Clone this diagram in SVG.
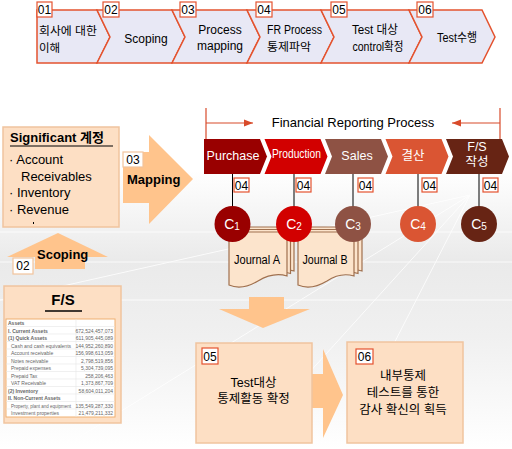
<svg xmlns="http://www.w3.org/2000/svg" width="512" height="449" viewBox="0 0 512 449">
<defs>
<linearGradient id="bg" x1="0" y1="0" x2="0" y2="1">
<stop offset="0" stop-color="#FFFFFF"/>
<stop offset="0.38" stop-color="#FFFFFF"/>
<stop offset="0.58" stop-color="#EAEAEA"/>
<stop offset="0.75" stop-color="#F0F0F0"/>
<stop offset="1" stop-color="#FFFFFF"/>
</linearGradient>
<marker id="ah" viewBox="0 0 10 10" refX="10" refY="5" markerWidth="9" markerHeight="9" markerUnits="userSpaceOnUse" orient="auto">
<path d="M0,1 L10,5 L0,9 Z" fill="#D84A2A"/>
</marker>
<style>
.step{fill:#E8E8F5;stroke:#E4532F;stroke-width:1.5}
.lbl{fill:#FFFFFF;stroke:#E4532F;stroke-width:1.2}
.lblp{fill:#FFFFFF;stroke:#F2C49C;stroke-width:1.2}
.t{font-family:"Liberation Sans","Noto Sans CJK KR",sans-serif;fill:#000}
.w{font-family:"Liberation Sans","Noto Sans CJK KR",sans-serif;fill:#FFFFFF}
.b{font-weight:bold}
.peach{fill:#FDDFC4;stroke:#F0C49E;stroke-width:1.5}
.arr{fill:#FFC48C}
.doc{fill:#FCE4CC;stroke:#A0704E;stroke-width:1.2}
.vl{stroke:#000;stroke-width:1}
.tb{font-family:"Liberation Sans",sans-serif;font-size:5px;fill:#666}
</style>
</defs>
<rect x="0" y="0" width="512" height="449" fill="url(#bg)"/>
<g stroke="#FFFFFF" stroke-width="1" opacity="0.8">
<line x1="470" y1="195" x2="0" y2="300"/>
<line x1="470" y1="195" x2="240" y2="449"/>
<line x1="470" y1="195" x2="340" y2="449"/>
<line x1="470" y1="195" x2="60" y2="449"/>
<line x1="0" y1="232" x2="512" y2="232"/>
<line x1="0" y1="262" x2="512" y2="262"/>
<line x1="0" y1="300" x2="512" y2="300"/>
</g>

<!-- Top process steps -->
<g id="step01">
<polygon class="step" points="37,10 97,10 110,37 97,63 37,63"/>
<rect class="lbl" x="37" y="2" width="15" height="15"/>
<text class="t" x="44.5" y="14" font-size="12" text-anchor="middle">01</text>
<text class="t" x="39" y="35" font-size="11.5" textLength="58" lengthAdjust="spacingAndGlyphs">회사에 대한</text>
<text class="t" x="39" y="52" font-size="11.5">이해</text>
</g>
<g id="step02">
<polygon class="step" points="97,10 172,10 185,37 172,63 97,63 110,37"/>
<rect class="lbl" x="103" y="2" width="16" height="15"/>
<text class="t" x="111" y="14" font-size="12" text-anchor="middle">02</text>
<text class="t" x="146" y="43" font-size="12" text-anchor="middle">Scoping</text>
</g>
<g id="step03">
<polygon class="step" points="172,10 247,10 260,37 247,63 172,63 185,37"/>
<rect class="lbl" x="180" y="2" width="16" height="15"/>
<text class="t" x="188" y="14" font-size="12" text-anchor="middle">03</text>
<text class="t" x="220" y="34" font-size="12" text-anchor="middle">Process</text>
<text class="t" x="220" y="50" font-size="12" text-anchor="middle">mapping</text>
</g>
<g id="step04">
<polygon class="step" points="247,10 321,10 334,37 321,63 247,63 260,37"/>
<rect class="lbl" x="256" y="2" width="16" height="15"/>
<text class="t" x="264" y="14" font-size="12" text-anchor="middle">04</text>
<text class="t" x="267" y="34" font-size="12" textLength="55" lengthAdjust="spacingAndGlyphs">FR Process</text>
<text class="t" x="267" y="51" font-size="11.5" textLength="44" lengthAdjust="spacingAndGlyphs">통제파악</text>
</g>
<g id="step05">
<polygon class="step" points="321,10 409,10 422,37 409,63 321,63 334,37"/>
<rect class="lbl" x="331" y="2" width="16" height="15"/>
<text class="t" x="339" y="14" font-size="12" text-anchor="middle">05</text>
<text class="t" x="375" y="34" font-size="12" text-anchor="middle" textLength="46" lengthAdjust="spacingAndGlyphs">Test 대상</text>
<text class="t" x="378" y="51" font-size="12" text-anchor="middle" textLength="51" lengthAdjust="spacingAndGlyphs">control확정</text>
</g>
<g id="step06">
<polygon class="step" points="409,10 482,10 495,37 482,63 409,63 422,37"/>
<rect class="lbl" x="417" y="2" width="16" height="15"/>
<text class="t" x="425" y="14" font-size="12" text-anchor="middle">06</text>
<text class="t" x="457" y="42" font-size="12" text-anchor="middle" textLength="40" lengthAdjust="spacingAndGlyphs">Test수행</text>
</g>

<!-- Left column -->
<g id="significant">
<rect class="peach" x="3" y="127" width="116" height="100"/>
<text class="t b" x="10" y="142" font-size="13">Significant 계정</text>
<line x1="10" y1="146" x2="113" y2="146" stroke="#000" stroke-width="1.2"/>
<text class="t" x="9" y="164" font-size="13">· Account</text>
<text class="t" x="21" y="181" font-size="13">Receivables</text>
<text class="t" x="9" y="197" font-size="13">· Inventory</text>
<text class="t" x="9" y="214" font-size="13">· Revenue</text>
<rect x="33" y="222" width="1" height="2" fill="#000"/>
</g>
<g id="mapping">
<polygon class="arr" points="123,152 149,152 149,135 193,179 149,224 149,203 123,203"/>
<rect class="lblp" x="123" y="152" width="20" height="15"/>
<text class="t" x="133" y="164" font-size="12" text-anchor="middle">03</text>
<text class="t b" x="127" y="184" font-size="13">Mapping</text>
</g>
<g id="scoping">
<polygon class="arr" points="58,233 108,257 85,257 85,269 35,269 35,257 7,257"/>
<text class="t b" x="37" y="259" font-size="13">Scoping</text>
<rect class="lblp" x="13" y="258" width="20" height="16"/>
<text class="t" x="23" y="270" font-size="12" text-anchor="middle">02</text>
</g>
<g id="fs">
<rect class="peach" x="4" y="286" width="117" height="137"/>
<text class="t b" x="63" y="305" font-size="15" text-anchor="middle">F/S</text>
<line x1="45" y1="311" x2="82" y2="311" stroke="#000" stroke-width="1.5"/>
<rect x="6" y="319" width="109" height="98" fill="#FFFFFF" stroke="#F0B070" stroke-width="1"/>
<g stroke="#E6E6E6" stroke-width="0.6">
<line x1="76" y1="319" x2="76" y2="417"/>
<line x1="6" y1="326.5" x2="115" y2="326.5"/>
<line x1="6" y1="334" x2="115" y2="334"/>
<line x1="6" y1="341.5" x2="115" y2="341.5"/>
<line x1="6" y1="349" x2="115" y2="349"/>
<line x1="6" y1="356.5" x2="115" y2="356.5"/>
<line x1="6" y1="364" x2="115" y2="364"/>
<line x1="6" y1="371.5" x2="115" y2="371.5"/>
<line x1="6" y1="379" x2="115" y2="379"/>
<line x1="6" y1="386.5" x2="115" y2="386.5"/>
<line x1="6" y1="394" x2="115" y2="394"/>
<line x1="6" y1="401.5" x2="115" y2="401.5"/>
<line x1="6" y1="409" x2="115" y2="409"/>
</g>
<text class="tb b" x="8" y="325" fill="#333">Assets</text>
<text class="tb b" x="8" y="332.5" fill="#333">I. Current Assets</text>
<text class="tb" x="113" y="332.5" text-anchor="end">672,524,457,073</text>
<text class="tb b" x="8" y="340" fill="#333">(1) Quick Assets</text>
<text class="tb" x="113" y="340" text-anchor="end">611,905,445,089</text>
<text class="tb" x="11" y="347.5">Cash and cash equivalents</text>
<text class="tb" x="113" y="347.5" text-anchor="end">144,952,260,890</text>
<text class="tb" x="11" y="355">Account receivable</text>
<text class="tb" x="113" y="355" text-anchor="end">156,998,613,059</text>
<text class="tb" x="11" y="362.5">Notes receivable</text>
<text class="tb" x="113" y="362.5" text-anchor="end">2,798,519,856</text>
<text class="tb" x="11" y="370">Prepaid expenses</text>
<text class="tb" x="113" y="370" text-anchor="end">5,304,739,095</text>
<text class="tb" x="11" y="377.5">Prepaid Tax</text>
<text class="tb" x="113" y="377.5" text-anchor="end">258,206,463</text>
<text class="tb" x="11" y="385">VAT Receivable</text>
<text class="tb" x="113" y="385" text-anchor="end">1,373,867,709</text>
<text class="tb b" x="8" y="392.5" fill="#333">(2) Inventory</text>
<text class="tb" x="113" y="392.5" text-anchor="end">58,604,011,204</text>
<text class="tb b" x="8" y="400" fill="#333">II. Non-Current Assets</text>
<text class="tb" x="11" y="407.5" textLength="60" lengthAdjust="spacingAndGlyphs">Property, plant and equipment</text>
<text class="tb" x="113" y="407.5" text-anchor="end">135,549,287,330</text>
<text class="tb" x="11" y="415">Investment properties</text>
<text class="tb" x="113" y="415" text-anchor="end">21,479,211,332</text>
</g>

<!-- Financial Reporting Process header -->
<g id="frp-header">
<line x1="206" y1="108" x2="206" y2="140" stroke="#D84A2A" stroke-width="1.2"/>
<line x1="500" y1="108" x2="500" y2="140" stroke="#D84A2A" stroke-width="1.2"/>
<line x1="206" y1="123" x2="253" y2="123" stroke="#D84A2A" stroke-width="1.2" marker-end="url(#ah)"/>
<line x1="500" y1="123" x2="452" y2="123" stroke="#D84A2A" stroke-width="1.2" marker-end="url(#ah)"/>
<text class="t" x="353" y="127" font-size="13" text-anchor="middle">Financial Reporting Process</text>
</g>

<!-- Process chevrons -->
<g id="purchase">
<polygon points="204,139 260,139 267,156.5 260,174 204,174" fill="#990000"/>
<text class="w" x="233" y="160" font-size="12.5" text-anchor="middle">Purchase</text>
</g>
<g id="production">
<polygon points="264.5,139 320.5,139 327.5,156.5 320.5,174 264.5,174 271.5,156.5" fill="#D20000"/>
<text class="w" x="296.5" y="158" font-size="13" text-anchor="middle" textLength="49" lengthAdjust="spacingAndGlyphs">Production</text>
</g>
<g id="sales">
<polygon points="325,139 381,139 388,156.5 381,174 325,174 332,156.5" fill="#8E5244"/>
<text class="w" x="357" y="160" font-size="12.5" text-anchor="middle">Sales</text>
</g>
<g id="closing">
<polygon points="385.5,139 441.5,139 448.5,156.5 441.5,174 385.5,174 392.5,156.5" fill="#DA5533"/>
<text class="w" x="413" y="160" font-size="12.5" text-anchor="middle">결산</text>
</g>
<g id="fs-prep">
<polygon points="446,139 502,139 509,156.5 502,174 446,174 453,156.5" fill="#672414"/>
<text class="w" x="477" y="151" font-size="12.5" text-anchor="middle">F/S</text>
<text class="w" x="477" y="166" font-size="12.5" text-anchor="middle">작성</text>
</g>

<!-- Connectors -->
<g id="connectors">
<line class="vl" x1="232.5" y1="174" x2="232.5" y2="207"/>
<line class="vl" x1="294" y1="174" x2="294" y2="207"/>
<line class="vl" x1="353" y1="174" x2="353" y2="207"/>
<line class="vl" x1="418" y1="174" x2="418" y2="207"/>
<line class="vl" x1="479" y1="174" x2="479" y2="207"/>
<polygon class="arr" points="249,297 284,297 284,309 310,309 263,328 219,309 249,309"/>
<polygon class="arr" points="312,374 323,374 323,349 343,395 323,438 323,408 312,408"/>
</g>

<!-- 04 labels -->
<g id="labels04">
<rect class="lbl" x="234" y="178" width="15" height="14"/>
<text class="t" x="241.5" y="189.5" font-size="12" text-anchor="middle">04</text>
<rect class="lbl" x="296" y="178" width="15" height="14"/>
<text class="t" x="303.5" y="189.5" font-size="12" text-anchor="middle">04</text>
<rect class="lbl" x="358" y="178" width="15" height="14"/>
<text class="t" x="365.5" y="189.5" font-size="12" text-anchor="middle">04</text>
<rect class="lbl" x="422" y="178" width="15" height="14"/>
<text class="t" x="429.5" y="189.5" font-size="12" text-anchor="middle">04</text>
<rect class="lbl" x="483" y="178" width="15" height="14"/>
<text class="t" x="490.5" y="189.5" font-size="12" text-anchor="middle">04</text>
</g>

<!-- Journals -->
<g id="journalA">
<path class="doc" d="M236,227 H294 V271 C284,268 276,270 266,275 C256,280 246,283 236,280 Z"/>
<path class="doc" d="M232.5,229.5 H290.5 V273.5 C280,270 272,272 262,277 C252,282 242,285 232.5,282.5 Z"/>
<path class="doc" d="M229,232 H287 V276 C277,273 268,275 258,281 C248,287 238,289 229,285 Z"/>
<text class="t" x="257" y="264" font-size="12.5" text-anchor="middle" textLength="46" lengthAdjust="spacingAndGlyphs">Journal A</text>
</g>
<g id="journalB">
<path class="doc" d="M306,227 H362 V271 C352,268 344,270 335,275 C325,280 315,283 306,280 Z"/>
<path class="doc" d="M302,229.5 H358 V273.5 C348,270 340,272 331,277 C321,282 311,285 302,282.5 Z"/>
<path class="doc" d="M298,232 H354 V276 C344,273 336,275 327,281 C317,287 307,289 298,285 Z"/>
<text class="t" x="325" y="264" font-size="12.5" text-anchor="middle" textLength="45" lengthAdjust="spacingAndGlyphs">Journal B</text>
</g>

<!-- Control circles -->
<g id="c1">
<circle cx="232.5" cy="224" r="18" fill="#990000"/>
<text class="w" x="232" y="229" font-size="14" text-anchor="middle">C<tspan font-size="10" dy="1">1</tspan></text>
</g>
<g id="c2">
<circle cx="294" cy="224" r="18" fill="#D20000"/>
<text class="w" x="294" y="229" font-size="14" text-anchor="middle">C<tspan font-size="10" dy="1">2</tspan></text>
</g>
<g id="c3">
<circle cx="353" cy="224" r="18" fill="#8E5244"/>
<text class="w" x="353" y="229" font-size="14" text-anchor="middle">C<tspan font-size="10" dy="1">3</tspan></text>
</g>
<g id="c4">
<circle cx="418" cy="224" r="18" fill="#DA5533"/>
<text class="w" x="418" y="229" font-size="14" text-anchor="middle">C<tspan font-size="10" dy="1">4</tspan></text>
</g>
<g id="c5">
<circle cx="479" cy="224" r="18" fill="#672414"/>
<text class="w" x="479" y="229" font-size="14" text-anchor="middle">C<tspan font-size="10" dy="1">5</tspan></text>
</g>

<!-- Bottom boxes -->
<g id="box05">
<rect class="peach" x="196" y="343" width="116" height="100"/>
<rect class="lbl" x="202" y="348" width="16" height="16"/>
<text class="t" x="210" y="360.5" font-size="12" text-anchor="middle">05</text>
<text class="t" x="253.5" y="387" font-size="12.5" text-anchor="middle">Test대상</text>
<text class="t" x="253.5" y="403" font-size="12.5" text-anchor="middle">통제활동 확정</text>
</g>
<g id="box06">
<rect class="peach" x="347" y="342" width="116" height="101"/>
<rect class="lbl" x="356" y="349" width="17" height="15"/>
<text class="t" x="364.5" y="360.5" font-size="12" text-anchor="middle">06</text>
<text class="t" x="403" y="380" font-size="12.5" text-anchor="middle">내부통제</text>
<text class="t" x="403" y="397" font-size="12.5" text-anchor="middle">테스트를 통한</text>
<text class="t" x="403" y="414" font-size="12.5" text-anchor="middle">감사 확신의 획득</text>
</g>
</svg>
